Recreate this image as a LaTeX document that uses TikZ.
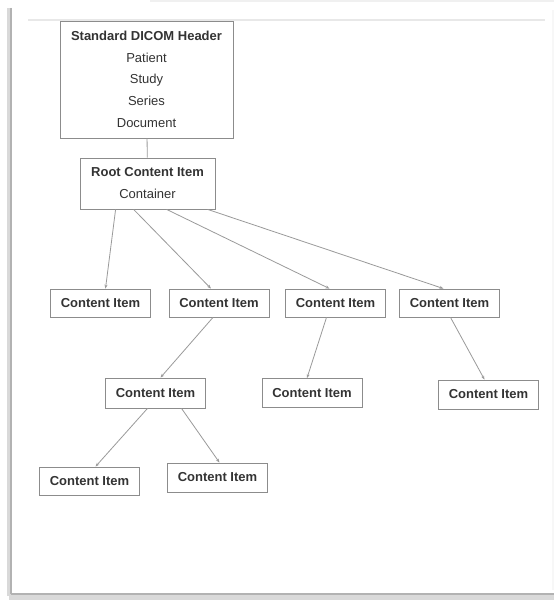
\documentclass[tikz,border=0pt]{standalone}
\usepackage{fontspec}
\setmainfont{Liberation Sans}
\usetikzlibrary{arrows.meta}
\definecolor{boxline}{HTML}{8C8C8C}
\definecolor{arrowline}{HTML}{9A9A9A}
\definecolor{itemtext}{HTML}{333333}
\renewcommand{\arraystretch}{1.45}

\begin{document}
\begin{tikzpicture}[x=1pt,y=-1pt,
    item/.style={draw=boxline,line width=0.8pt,fill=white,text=itemtext,
      font=\fontsize{13}{15}\selectfont\bfseries,inner sep=2pt,
      minimum width=100pt,minimum height=29pt},
    link/.style={draw=arrowline,line width=0.8pt,-{Stealth[length=4pt,width=3pt]}},
    >={Stealth[length=4pt,width=3pt]}]
  \useasboundingbox (0,0) rectangle (554,604);
  % page frame and its shadow
  \fill[white] (11,6) rectangle (552,594);
  \draw[gray!12,line width=2pt] (150,1) -- (554,1);
  \draw[gray!18,line width=1.5pt] (28,20) -- (545,20);
  \draw[gray!6,line width=1.5pt] (553,10) -- (553,590);
  \draw[gray!30,line width=4pt] (9,8) -- (9,596);
  \draw[gray!60,line width=1.5pt] (11,8) -- (11,594);
  \draw[gray!30,line width=5pt] (9,597) -- (554,597);
  \draw[gray!60,line width=1.5pt] (11,594) -- (554,594);

  \node[item,minimum width=173pt,minimum height=117pt,font=\fontsize{13}{15}\selectfont](Hdr) at (146.5,79.5){
    \begin{tabular}{c}
      \textbf{Standard DICOM Header} \\
      Patient \\
      Study \\
      Series \\
      Document
    \end{tabular}};
  \node[item,minimum width=135pt,minimum height=51pt,font=\fontsize{13}{15}\selectfont](Root) at (147.5,183.5){
    \begin{tabular}{c}
      \textbf{Root Content Item} \\
      Container
    \end{tabular}};

  \node[item,minimum height=28pt](CiA) at (100.5,303){Content Item};
  \node[item,minimum height=28pt](CiB) at (219,303){Content Item};
  \node[item,minimum height=28pt](CiC) at (335.5,303){Content Item};
  \node[item,minimum height=28pt](CiD) at (449.5,303){Content Item};
  \node[item,minimum height=30pt](CiE) at (155.5,393){Content Item};
  \node[item](CiF) at (312,393){Content Item};
  \node[item](CiG) at (488.5,394.5){Content Item};
  \node[item,minimum height=28pt](CiH) at (89.5,481){Content Item};
  \node[item](CiI) at (217.5,477.5){Content Item};

  \draw[draw=arrowline,line width=0.8pt] (Hdr) -- (Root);
  \draw[link] ([xshift=36pt]Root.south west) -- ([xshift=5pt]CiA.north);
  \draw[link] ([xshift=54pt]Root.south west) -- ([xshift=-8pt]CiB.north);
  \draw[link] ([xshift=87pt]Root.south west) -- ([xshift=-6pt]CiC.north);
  \draw[link] ([xshift=128pt]Root.south west) -- ([xshift=-6pt]CiD.north);
  \draw[link] ([xshift=-6pt]CiB.south) -- ([xshift=5pt]CiE.north);
  \draw[link] ([xshift=-9pt]CiC.south) -- ([xshift=-5pt]CiF.north);
  \draw[link] ([xshift=1pt]CiD.south) -- ([xshift=-4pt]CiG.north);
  \draw[link] ([xshift=-8pt]CiE.south) -- ([xshift=6pt]CiH.north);
  \draw[link] ([xshift=26pt]CiE.south) -- ([xshift=2pt]CiI.north);
\end{tikzpicture}
\end{document}
